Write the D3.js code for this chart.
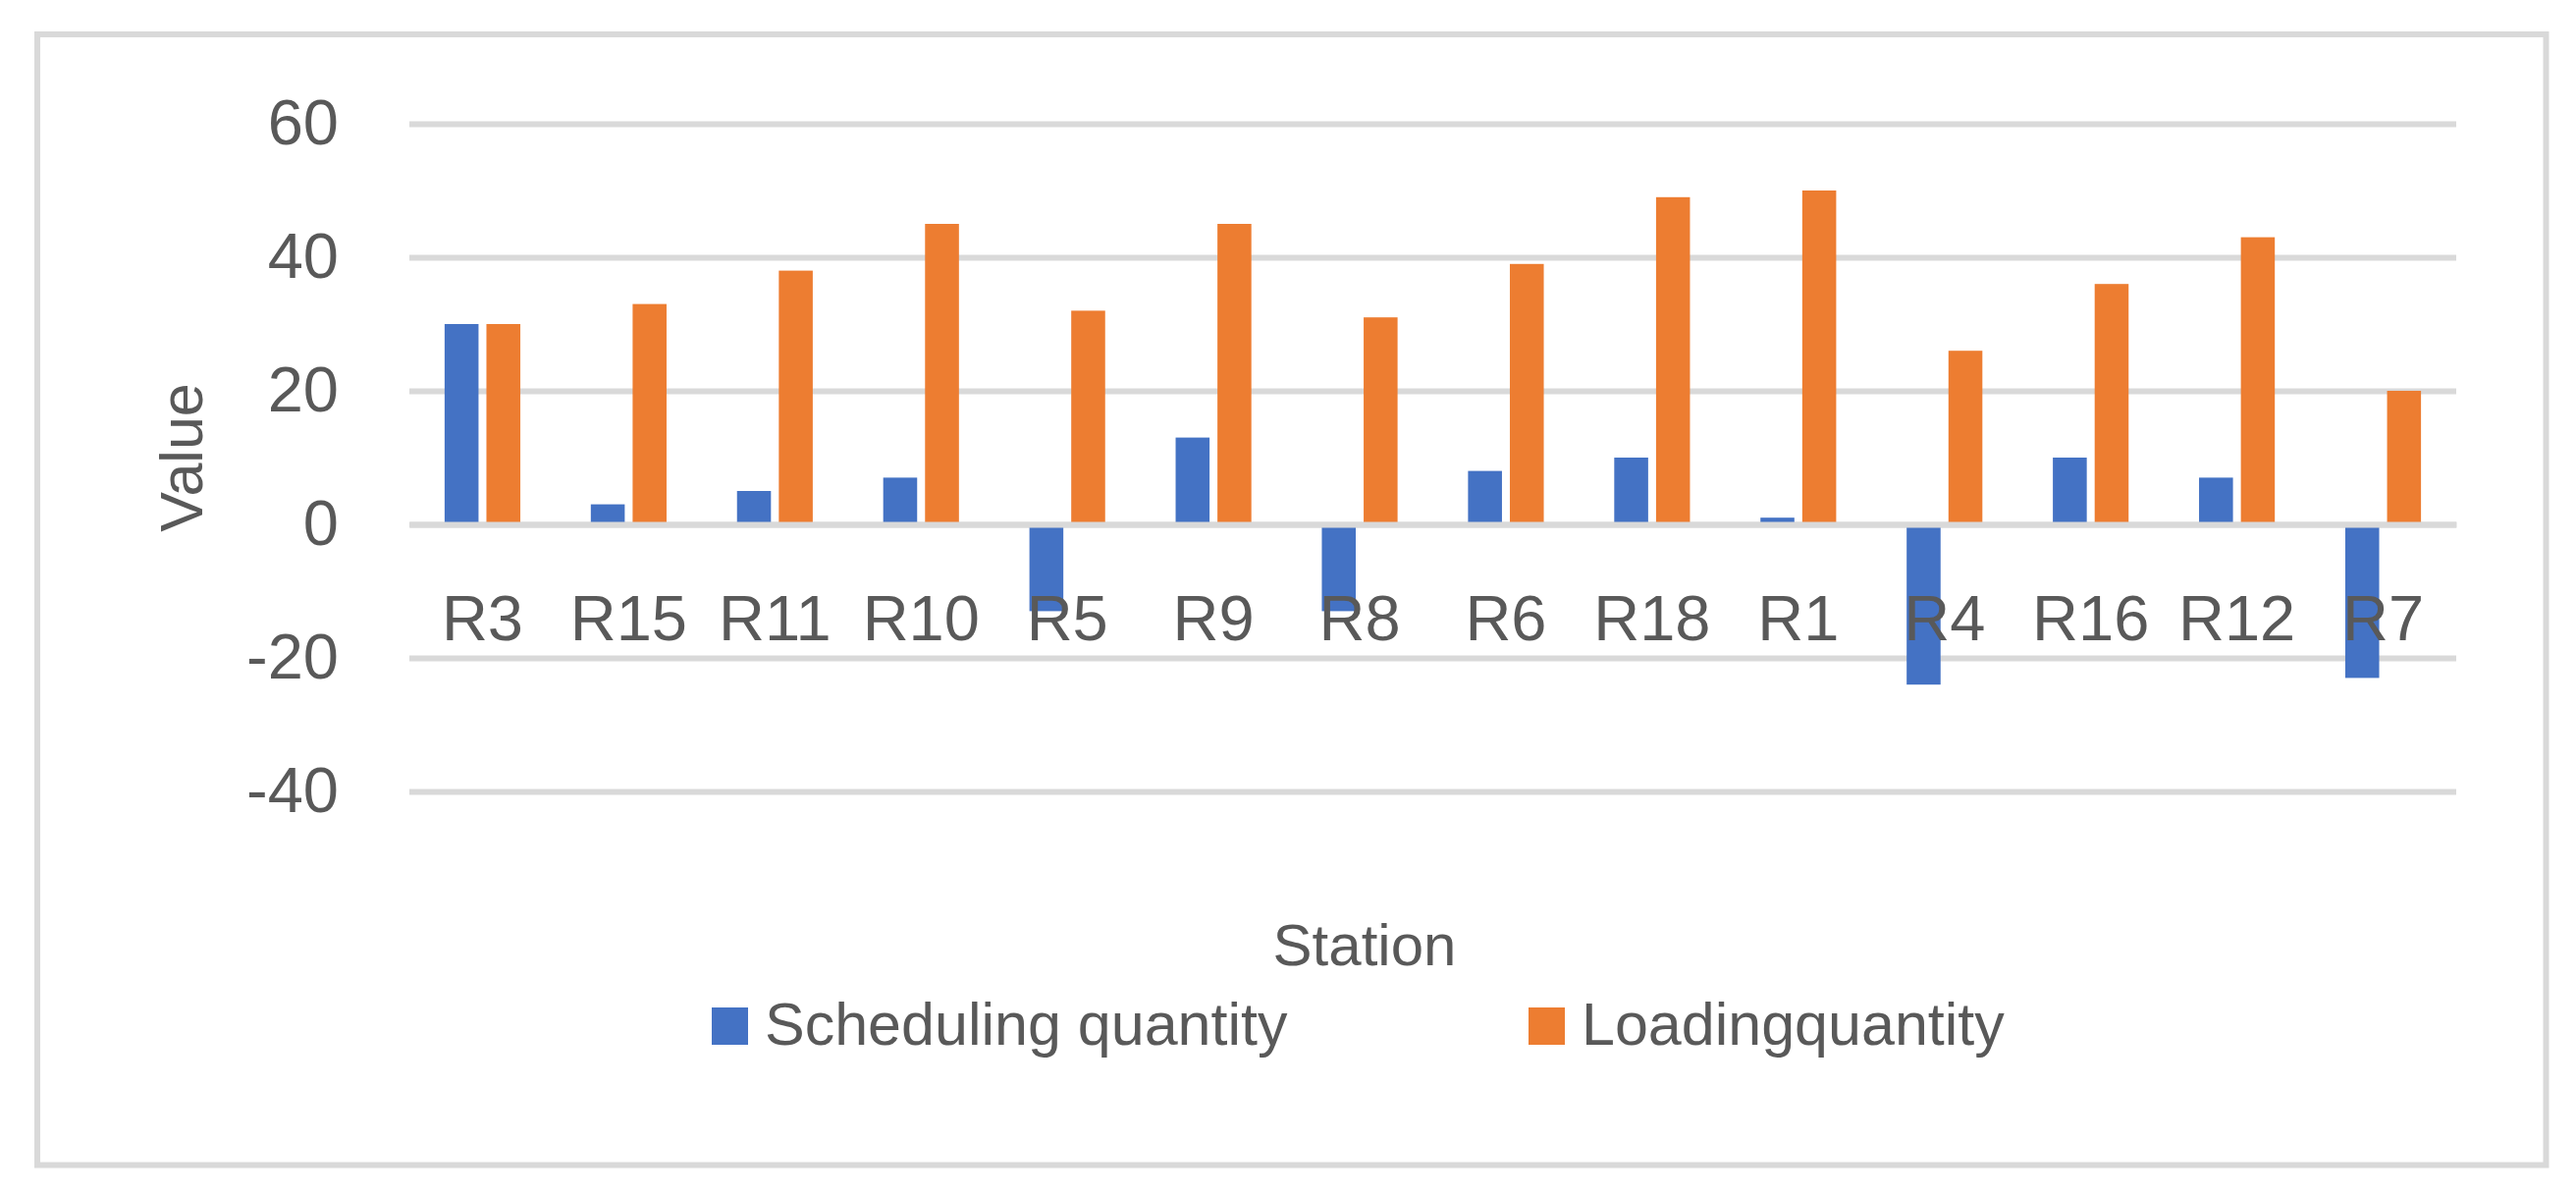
<!DOCTYPE html>
<html>
<head>
<meta charset="utf-8">
<script src="https://cdn.jsdelivr.net/npm/d3@7"></script>
<style>
  html, body { margin: 0; padding: 0; background: #ffffff; }
  svg { display: block; }
</style>
</head>
<body>
<script>
const stations = ["R3","R15","R11","R10","R5","R9","R8","R6","R18","R1","R4","R16","R12","R7"];
const schedulingQuantity = [30, 3, 5, 7, -13, 13, -13, 8, 10, 1, -24, 10, 7, -23];
const loadingQuantity = [30, 33, 38, 45, 32, 45, 31, 39, 49, 50, 26, 36, 43, 20];
const seriesNames = ["Scheduling quantity", "Loadingquantity"];
const seriesColors = ["#4472C4", "#ED7D31"];
const yTicks = [-40, -20, 0, 20, 40, 60];
const yTickLabels = ["-40", "-20", "0", "20", "40", "60"];
const yAxisTitle = "Value";
const xAxisTitle = "Station";

const W = 2624, H = 1218;
const plot = { left: 417, right: 2502, top: 126, bottom: 806 };
const textColor = "#595959";
const gridColor = "#d9d9d9";
const font = "'Liberation Sans', Arial, sans-serif";

const svg = d3.select("body").append("svg")
  .attr("width", W).attr("height", H);

svg.append("rect").attr("width", W).attr("height", H).attr("fill", "#ffffff");

// chart border
svg.append("rect")
  .attr("x", 38).attr("y", 35)
  .attr("width", 2555.5).attr("height", 1151.5)
  .attr("fill", "#ffffff")
  .attr("stroke", gridColor).attr("stroke-width", 6);

const x = d3.scaleBand().domain(stations).range([plot.left, plot.right]).paddingInner(0).paddingOuter(0);
const y = d3.scaleLinear().domain([-40, 60]).range([plot.bottom, plot.top]);

// y axis with gridlines
const yAxis = d3.axisLeft(y).tickValues(yTicks)
  .tickFormat((d, i) => yTickLabels[i])
  .tickSize(-(plot.right - plot.left)).tickPadding(72);
const gy = svg.append("g").attr("transform", `translate(${plot.left},0)`).call(yAxis);
gy.select(".domain").remove();
gy.selectAll(".tick line").attr("stroke", gridColor).attr("stroke-width", 6);
gy.selectAll(".tick text")
  .attr("fill", textColor).attr("font-family", font).attr("font-size", 65);

// bars
const bw = x.bandwidth() * 0.232;
const gap = x.bandwidth() * 0.054;
const series = [schedulingQuantity, loadingQuantity];
series.forEach((vals, si) => {
  svg.append("g").selectAll("rect")
    .data(stations.map((s, i) => ({ s, v: vals[i] })))
    .join("rect")
    .attr("x", d => x(d.s) + x.bandwidth() / 2 + (si === 0 ? -(bw + gap / 2) : gap / 2))
    .attr("width", bw)
    .attr("y", d => y(Math.max(0, d.v)))
    .attr("height", d => Math.abs(y(d.v) - y(0)))
    .attr("fill", seriesColors[si]);
});

// x axis at zero (line drawn over bars, labels on top)
const xAxis = d3.axisBottom(x).tickSize(0).tickSizeOuter(0).tickPadding(72);
const gx = svg.append("g").attr("transform", `translate(0,${y(0)})`).call(xAxis);
gx.select(".domain").attr("stroke", gridColor).attr("stroke-width", 6);
gx.selectAll(".tick text")
  .attr("fill", textColor).attr("font-family", font).attr("font-size", 65);

// axis titles
svg.append("text")
  .attr("transform", `translate(206,${(plot.top + plot.bottom) / 2}) rotate(-90)`)
  .attr("text-anchor", "middle")
  .attr("fill", textColor).attr("font-family", font).attr("font-size", 61)
  .text(yAxisTitle);

svg.append("text")
  .attr("x", 1390).attr("y", 983)
  .attr("text-anchor", "middle")
  .attr("fill", textColor).attr("font-family", font).attr("font-size", 60)
  .text(xAxisTitle);

// legend
const legendX = [725, 1557];
const lg = svg.append("g");
seriesNames.forEach((name, i) => {
  lg.append("rect")
    .attr("x", legendX[i]).attr("y", 1026)
    .attr("width", 37).attr("height", 38)
    .attr("fill", seriesColors[i]);
  lg.append("text")
    .attr("x", legendX[i] + 54).attr("y", 1064)
    .attr("fill", textColor).attr("font-family", font).attr("font-size", 61)
    .text(name);
});
</script>
</body>
</html>
